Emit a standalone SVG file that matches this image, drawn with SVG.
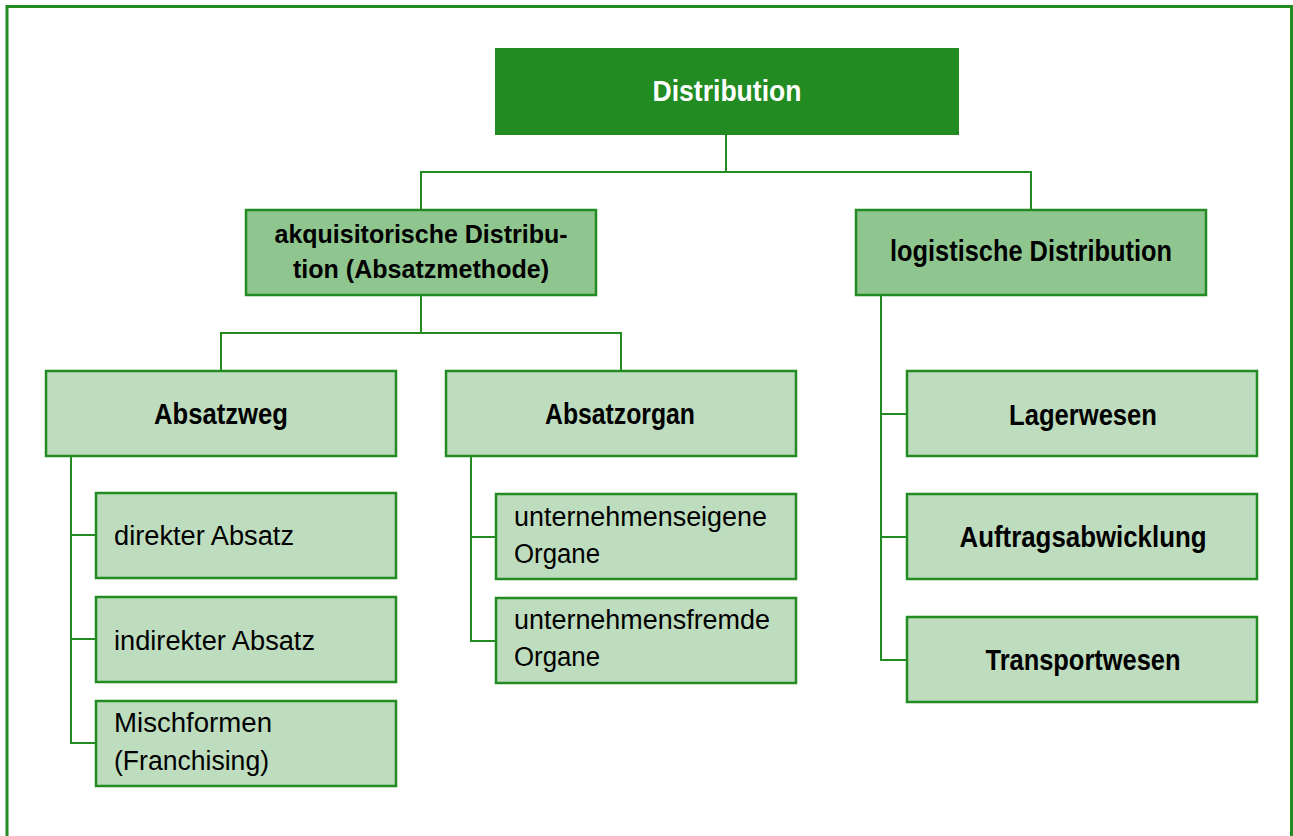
<svg xmlns="http://www.w3.org/2000/svg" width="1293" height="836" viewBox="0 0 1293 836">
  <style>
    .frame { fill: none; stroke: #228B22; stroke-width: 3; }
    .conn { fill: none; stroke: #228B22; stroke-width: 2; }
    .root { fill: #228B22; }
    .mid { fill: #8FC68F; stroke: #228B22; stroke-width: 2.5; }
    .leaf { fill: #BEDCBE; stroke: #228B22; stroke-width: 2.5; }
    .b { font-family: "Liberation Sans", Arial, sans-serif; font-weight: bold; fill: #000; }
    .r { font-family: "Liberation Sans", Arial, sans-serif; font-size: 27px; fill: #000; }
    .w { fill: #fff; }
  </style>

  <rect width="1293" height="836" fill="#fff"/>
  <!-- outer frame: open at the bottom -->
  <path class="frame" d="M7,836 V6.5 H1291.5 V836"/>

  <!-- connectors -->
  <g id="connectors">
    <path class="conn" d="M726,135 V172 M421,210 V172 H1031 V210"/>
    <path class="conn" d="M421,295 V333 M221,371 V333 H621 V371"/>
    <path class="conn" d="M71,456 V743 H96 M71,535 H96 M71,639 H96"/>
    <path class="conn" d="M471,456 V641 H496 M471,537 H496"/>
    <path class="conn" d="M881,295 V660 H907 M881,414 H907 M881,537 H907"/>
  </g>

  <g id="distribution">
    <rect class="root" x="495" y="48" width="464" height="87"/>
    <text class="b w" x="727" y="101" font-size="29" text-anchor="middle" textLength="149" lengthAdjust="spacingAndGlyphs">Distribution</text>
  </g>

  <g id="akquisitorisch">
    <rect class="mid" x="246" y="210" width="350" height="85"/>
    <text class="b" x="421" y="243" font-size="25" text-anchor="middle" textLength="293" lengthAdjust="spacingAndGlyphs">akquisitorische Distribu-</text>
    <text class="b" x="421" y="278" font-size="25" text-anchor="middle" textLength="256" lengthAdjust="spacingAndGlyphs">tion (Absatzmethode)</text>
  </g>

  <g id="logistisch">
    <rect class="mid" x="856" y="210" width="350" height="85"/>
    <text class="b" x="1031" y="261" font-size="29" text-anchor="middle" textLength="282" lengthAdjust="spacingAndGlyphs">logistische Distribution</text>
  </g>

  <g id="absatzweg">
    <rect class="leaf" x="46" y="371" width="350" height="85"/>
    <text class="b" x="221" y="424" font-size="29" text-anchor="middle" textLength="134" lengthAdjust="spacingAndGlyphs">Absatzweg</text>
  </g>

  <g id="absatzorgan">
    <rect class="leaf" x="446" y="371" width="350" height="85"/>
    <text class="b" x="620" y="424" font-size="29" text-anchor="middle" textLength="150" lengthAdjust="spacingAndGlyphs">Absatzorgan</text>
  </g>

  <g id="direkt">
    <rect class="leaf" x="96" y="493" width="300" height="85"/>
    <text class="r" x="114" y="545" textLength="180" lengthAdjust="spacingAndGlyphs">direkter Absatz</text>
  </g>

  <g id="indirekt">
    <rect class="leaf" x="96" y="597" width="300" height="85"/>
    <text class="r" x="114" y="650" textLength="201" lengthAdjust="spacingAndGlyphs">indirekter Absatz</text>
  </g>

  <g id="mischformen">
    <rect class="leaf" x="96" y="701" width="300" height="85"/>
    <text class="r" x="114" y="732" textLength="158" lengthAdjust="spacingAndGlyphs">Mischformen</text>
    <text class="r" x="114" y="770" textLength="155" lengthAdjust="spacingAndGlyphs">(Franchising)</text>
  </g>

  <g id="eigene">
    <rect class="leaf" x="496" y="494" width="300" height="85"/>
    <text class="r" x="514" y="526" textLength="253" lengthAdjust="spacingAndGlyphs">unternehmenseigene</text>
    <text class="r" x="514" y="563" textLength="86" lengthAdjust="spacingAndGlyphs">Organe</text>
  </g>

  <g id="fremde">
    <rect class="leaf" x="496" y="598" width="300" height="85"/>
    <text class="r" x="514" y="629" textLength="256" lengthAdjust="spacingAndGlyphs">unternehmensfremde</text>
    <text class="r" x="514" y="666" textLength="86" lengthAdjust="spacingAndGlyphs">Organe</text>
  </g>

  <g id="lagerwesen">
    <rect class="leaf" x="907" y="371" width="350" height="85"/>
    <text class="b" x="1083" y="425" font-size="29" text-anchor="middle" textLength="148" lengthAdjust="spacingAndGlyphs">Lagerwesen</text>
  </g>

  <g id="auftragsabwicklung">
    <rect class="leaf" x="907" y="494" width="350" height="85"/>
    <text class="b" x="1083" y="547" font-size="29" text-anchor="middle" textLength="247" lengthAdjust="spacingAndGlyphs">Auftragsabwicklung</text>
  </g>

  <g id="transportwesen">
    <rect class="leaf" x="907" y="617" width="350" height="85"/>
    <text class="b" x="1083" y="670" font-size="29" text-anchor="middle" textLength="195" lengthAdjust="spacingAndGlyphs">Transportwesen</text>
  </g>
</svg>
